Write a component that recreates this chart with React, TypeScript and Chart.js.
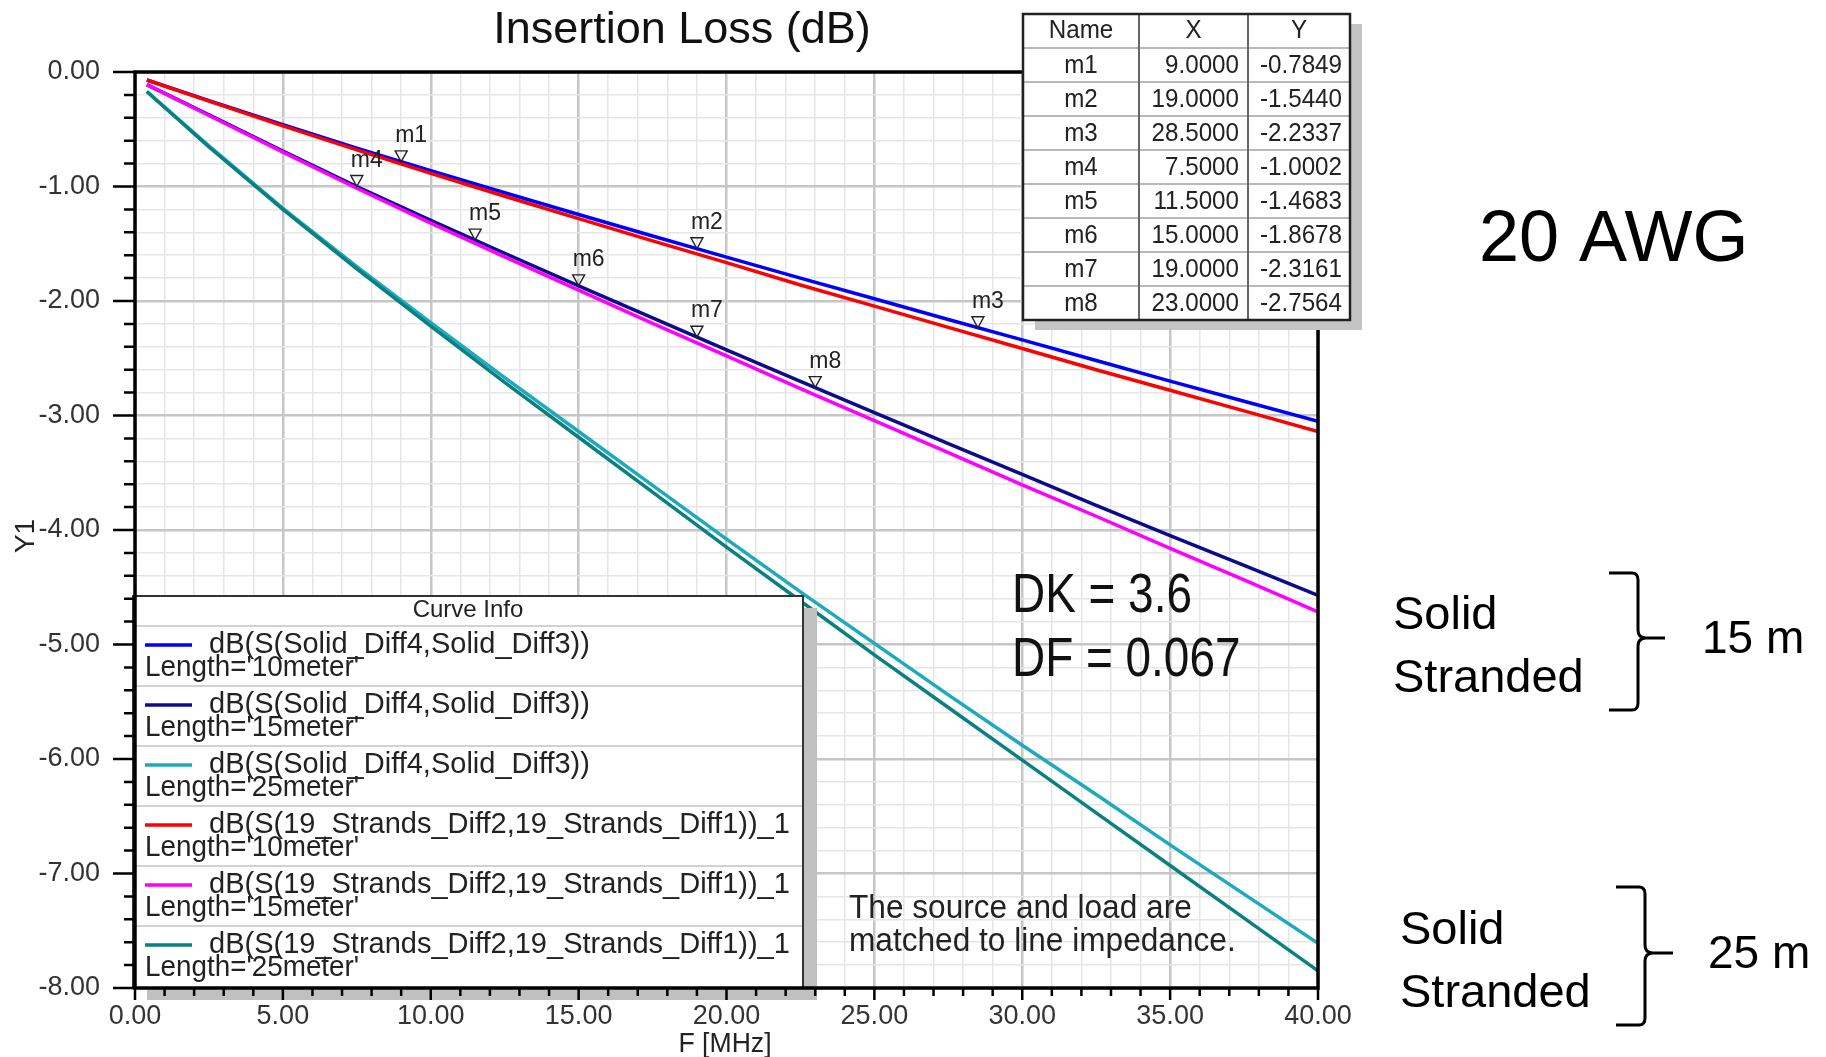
import React, { useEffect, useRef } from "react";
import { Chart, registerables } from "chart.js";

Chart.register(...registerables);

// ---------------- data ----------------
const FREQ_MHZ = [0.4, 2.5, 5, 7.5, 10, 12.5, 15, 17.5, 20, 22.5, 25, 27.5, 30, 32.5, 35, 37.5, 40];

const SOLID_10M = [-0.07, -0.25, -0.46, -0.665, -0.862, -1.055, -1.245, -1.432, -1.617, -1.8, -1.98, -2.162, -2.34, -2.52, -2.7, -2.875, -3.05];
const SOLID_15M = [-0.11, -0.375, -0.69, -1.0, -1.295, -1.583, -1.868, -2.148, -2.426, -2.702, -2.975, -3.245, -3.515, -3.785, -4.05, -4.31, -4.57];
const SOLID_25M = [-0.17, -0.645, -1.19, -1.7, -2.19, -2.67, -3.14, -3.61, -4.08, -4.54, -4.99, -5.44, -5.88, -6.31, -6.75, -7.18, -7.61];
const STRANDED_10M = [-0.07, -0.255, -0.47, -0.68, -0.885, -1.085, -1.28, -1.475, -1.665, -1.86, -2.045, -2.23, -2.415, -2.6, -2.78, -2.96, -3.14];
const STRANDED_15M = [-0.11, -0.38, -0.7, -1.015, -1.32, -1.615, -1.905, -2.195, -2.48, -2.765, -3.045, -3.325, -3.605, -3.88, -4.16, -4.435, -4.715];
const STRANDED_25M = [-0.17, -0.655, -1.2, -1.72, -2.22, -2.71, -3.19, -3.67, -4.15, -4.62, -5.09, -5.55, -6.01, -6.47, -6.93, -7.39, -7.85];

const SERIES_VALUES = [SOLID_10M, SOLID_15M, SOLID_25M, STRANDED_10M, STRANDED_15M, STRANDED_25M];
const SERIES_COLORS = ["#0000ff", "#0c0c8a", "#1eaabd", "#ff0000", "#ff00ff", "#0a8080"];
const SERIES_NAMES = [
  "dB(S(Solid_Diff4,Solid_Diff3))",
  "dB(S(Solid_Diff4,Solid_Diff3))",
  "dB(S(Solid_Diff4,Solid_Diff3))",
  "dB(S(19_Strands_Diff2,19_Strands_Diff1))_1",
  "dB(S(19_Strands_Diff2,19_Strands_Diff1))_1",
  "dB(S(19_Strands_Diff2,19_Strands_Diff1))_1",
];
const SERIES_LENGTHS = [
  "Length='10meter'",
  "Length='15meter'",
  "Length='25meter'",
  "Length='10meter'",
  "Length='15meter'",
  "Length='25meter'",
];
const SERIES_ORDER = [6, 5, 4, 3, 2, 1];

const MARKER_NAMES = ["m1", "m2", "m3", "m4", "m5", "m6", "m7", "m8"];
const MARKER_X = [9.0, 19.0, 28.5, 7.5, 11.5, 15.0, 19.0, 23.0];
const MARKER_Y = [-0.7849, -1.544, -2.2337, -1.0002, -1.4683, -1.8678, -2.3161, -2.7564];
const MARKER_X_TEXT = ["9.0000", "19.0000", "28.5000", "7.5000", "11.5000", "15.0000", "19.0000", "23.0000"];
const MARKER_Y_TEXT = ["-0.7849", "-1.5440", "-2.2337", "-1.0002", "-1.4683", "-1.8678", "-2.3161", "-2.7564"];

const X_MIN = 0;
const X_MAX = 40;
const Y_MIN = -8;
const Y_MAX = 0;

const FONT = '"Liberation Sans", Arial, Helvetica, sans-serif';

// ---------------- helpers ----------------
function txt(
  ctx: CanvasRenderingContext2D,
  s: string,
  x: number,
  y: number,
  size: number,
  align: CanvasTextAlign = "left",
  sx = 1,
  color = "#111",
  baseline: CanvasTextBaseline = "alphabetic"
) {
  ctx.save();
  ctx.font = `${size}px ${FONT}`;
  ctx.fillStyle = color;
  ctx.textAlign = align;
  ctx.textBaseline = baseline;
  ctx.translate(x, y);
  ctx.scale(sx, 1);
  ctx.fillText(s, 0, 0);
  ctx.restore();
}

function brace(ctx: CanvasRenderingContext2D, xl: number, xv: number, xt: number, yt: number, yb: number, ym: number) {
  ctx.save();
  ctx.strokeStyle = "#000";
  ctx.lineWidth = 3;
  ctx.beginPath();
  ctx.moveTo(xl, yt);
  ctx.lineTo(xv - 6, yt);
  ctx.quadraticCurveTo(xv, yt, xv, yt + 7);
  ctx.lineTo(xv, ym - 8);
  ctx.quadraticCurveTo(xv, ym, xv + 8, ym);
  ctx.lineTo(xt, ym);
  ctx.moveTo(xv + 8, ym);
  ctx.quadraticCurveTo(xv, ym, xv, ym + 8);
  ctx.lineTo(xv, yb - 7);
  ctx.quadraticCurveTo(xv, yb, xv - 6, yb);
  ctx.lineTo(xl, yb);
  ctx.stroke();
  ctx.restore();
}

const isInt = (v: number) => Math.abs(v - Math.round(v)) < 1e-6;
const isFive = (v: number) => isInt(v) && Math.round(v) % 5 === 0;

const overlayPlugin = {
  id: "overlay",
  afterDraw(chart: any) {
    const ctx: CanvasRenderingContext2D = chart.ctx;
    const xs = chart.scales.x;
    const ys = chart.scales.y;
    const { left, right, top, bottom } = chart.chartArea;

    // markers
    ctx.save();
    for (let i = 0; i < MARKER_NAMES.length; i++) {
      const px = xs.getPixelForValue(MARKER_X[i]);
      const py = ys.getPixelForValue(MARKER_Y[i]);
      ctx.beginPath();
      ctx.moveTo(px - 6, py - 11);
      ctx.lineTo(px + 6, py - 11);
      ctx.lineTo(px, py);
      ctx.closePath();
      ctx.strokeStyle = "#222";
      ctx.lineWidth = 1.4;
      ctx.stroke();
      txt(ctx, MARKER_NAMES[i], px - 6, py - 20, 23, "left", 1, "#222");
    }
    ctx.restore();

    // in-plot annotations
    txt(ctx, "DK = 3.6", 1012, 612, 56, "left", 0.82, "#111");
    txt(ctx, "DF = 0.067", 1012, 676, 56, "left", 0.82, "#111");
    txt(ctx, "The source and load are", 849, 918, 34, "left", 0.93, "#222");
    txt(ctx, "matched to line impedance.", 849, 951, 34, "left", 0.93, "#222");

    // legend box
    const L = 133, T = 596, R = 803, B = 988;
    ctx.save();
    ctx.fillStyle = "#c0c0c0";
    ctx.fillRect(L + 14, T + 12, R - L, B - T);
    ctx.fillStyle = "#fff";
    ctx.fillRect(L, T, R - L, B - T);
    ctx.strokeStyle = "#333";
    ctx.lineWidth = 2;
    ctx.strokeRect(L, T, R - L, B - T);
    txt(ctx, "Curve Info", (L + R) / 2, 617, 24, "center", 1, "#222");
    const rowH = 60;
    const firstRow = 626;
    for (let i = 0; i < SERIES_NAMES.length; i++) {
      const rt = firstRow + i * rowH;
      ctx.strokeStyle = "#d2d2d2";
      ctx.lineWidth = 2;
      ctx.beginPath();
      ctx.moveTo(L + 1, rt);
      ctx.lineTo(R - 1, rt);
      ctx.stroke();
      ctx.strokeStyle = SERIES_COLORS[i];
      ctx.lineWidth = 3.5;
      ctx.beginPath();
      ctx.moveTo(145, rt + 19);
      ctx.lineTo(192, rt + 19);
      ctx.stroke();
      txt(ctx, SERIES_NAMES[i], 209, rt + 27, 29, "left", 1, "#222");
      txt(ctx, SERIES_LENGTHS[i], 145, rt + 50, 29, "left", 0.96, "#222");
    }
    ctx.restore();

    // frame
    ctx.save();
    ctx.strokeStyle = "#000";
    ctx.lineWidth = 3.5;
    ctx.strokeRect(left, top, right - left, bottom - top);
    // ticks
    ctx.lineWidth = 2.5;
    ctx.beginPath();
    for (let k = 0; k <= 40; k++) {
      const v = -k * 0.2;
      const py = ys.getPixelForValue(v);
      const len = k % 5 === 0 ? 22 : 11;
      ctx.moveTo(left - len, py);
      ctx.lineTo(left, py);
    }
    for (let k = X_MIN; k <= X_MAX; k++) {
      const px = xs.getPixelForValue(k);
      const len = k % 5 === 0 ? 12 : 8;
      ctx.moveTo(px, bottom);
      ctx.lineTo(px, bottom + len);
    }
    ctx.stroke();
    ctx.restore();

    // marker table
    const TL = 1023, TT = 14, TR = 1350;
    const c1 = 1139, c2 = 1248;
    const hH = 34, rH = 34;
    const TB = TT + hH + rH * MARKER_NAMES.length;
    ctx.save();
    ctx.fillStyle = "#c4c4c4";
    ctx.fillRect(TL + 12, TT + 10, TR - TL, TB - TT);
    ctx.fillStyle = "#fff";
    ctx.fillRect(TL, TT, TR - TL, TB - TT);
    ctx.strokeStyle = "#b8b8b8";
    ctx.lineWidth = 2;
    ctx.beginPath();
    for (let i = 0; i < MARKER_NAMES.length; i++) {
      const y = TT + hH + rH * i;
      ctx.moveTo(TL, y);
      ctx.lineTo(TR, y);
    }
    ctx.stroke();
    ctx.strokeStyle = "#666";
    ctx.beginPath();
    ctx.moveTo(c1, TT);
    ctx.lineTo(c1, TB);
    ctx.moveTo(c2, TT);
    ctx.lineTo(c2, TB);
    ctx.stroke();
    ctx.strokeStyle = "#222";
    ctx.lineWidth = 2.5;
    ctx.strokeRect(TL, TT, TR - TL, TB - TT);
    txt(ctx, "Name", (TL + c1) / 2, TT + 24, 26, "center", 0.93, "#222");
    txt(ctx, "X", (c1 + c2) / 2, TT + 24, 26, "center", 0.93, "#222");
    txt(ctx, "Y", (c2 + TR) / 2, TT + 24, 26, "center", 0.93, "#222");
    for (let i = 0; i < MARKER_NAMES.length; i++) {
      const by = TT + hH + rH * i + 25;
      txt(ctx, MARKER_NAMES[i], (TL + c1) / 2, by, 26, "center", 0.93, "#222");
      txt(ctx, MARKER_X_TEXT[i], c2 - 9, by, 26, "right", 0.93, "#222");
      txt(ctx, MARKER_Y_TEXT[i], TR - 8, by, 26, "right", 0.93, "#222");
    }
    ctx.restore();

    // titles
    txt(ctx, "Insertion Loss (dB)", 682, 43, 45, "center", 1, "#111");
    txt(ctx, "F [MHz]", 725, 1052, 28, "center", 0.95, "#222");
    ctx.save();
    ctx.translate(34, 536);
    ctx.rotate(-Math.PI / 2);
    txt(ctx, "Y1", 0, 0, 28, "center", 1, "#222");
    ctx.restore();

    // right-side annotations
    txt(ctx, "20 AWG", 1479, 261, 72, "left", 1, "#000");
    txt(ctx, "Solid", 1393, 629, 47, "left", 1, "#000");
    txt(ctx, "Stranded", 1393, 692, 47, "left", 1, "#000");
    txt(ctx, "15 m", 1702, 653, 46, "left", 1, "#000");
    brace(ctx, 1609, 1638, 1665, 573, 710, 638);
    txt(ctx, "Solid", 1400, 944, 47, "left", 1, "#000");
    txt(ctx, "Stranded", 1400, 1007, 47, "left", 1, "#000");
    txt(ctx, "25 m", 1708, 968, 46, "left", 1, "#000");
    brace(ctx, 1616, 1645, 1673, 887, 1025, 953);
  },
};

export default function App() {
  const ref = useRef<HTMLCanvasElement | null>(null);
  useEffect(() => {
    if (!ref.current) return;
    const datasets = SERIES_VALUES.map((vals, i) => ({
      label: SERIES_NAMES[i] + " " + SERIES_LENGTHS[i],
      data: FREQ_MHZ.map((f, j) => ({ x: f, y: vals[j] })),
      borderColor: SERIES_COLORS[i],
      backgroundColor: SERIES_COLORS[i],
      borderWidth: 3.5,
      pointRadius: 0,
      tension: 0,
      fill: false,
      order: SERIES_ORDER[i],
    }));
    const chart = new Chart(ref.current, {
      type: "line",
      data: { datasets },
      options: {
        animation: false,
        responsive: false,
        devicePixelRatio: 1,
        layout: { padding: { left: 0, top: 72, right: 508, bottom: 0 } },
        plugins: { legend: { display: false }, title: { display: false }, tooltip: { enabled: false } },
        scales: {
          x: {
            type: "linear",
            min: X_MIN,
            max: X_MAX,
            border: { display: false },
            grid: {
              drawTicks: false,
              color: (c: any) => (c.tick && isFive(c.tick.value) ? "#c6c6c6" : "#e6e6e6"),
              lineWidth: (c: any) => (c.tick && isFive(c.tick.value) ? 2.5 : 1.5),
            },
            ticks: {
              stepSize: 1,
              autoSkip: false,
              maxRotation: 0,
              minRotation: 0,
              padding: 12,
              color: "#333",
              font: { family: FONT, size: 27 },
              callback: (v: any) => (isFive(Number(v)) ? Number(v).toFixed(2) : ""),
            },
            afterFit: (s: any) => {
              s.height = 69;
            },
          },
          y: {
            type: "linear",
            min: Y_MIN,
            max: Y_MAX,
            border: { display: false },
            grid: {
              drawTicks: false,
              color: (c: any) => (c.tick && isInt(c.tick.value) ? "#c6c6c6" : "#e6e6e6"),
              lineWidth: (c: any) => (c.tick && isInt(c.tick.value) ? 2.5 : 1.5),
            },
            ticks: {
              stepSize: 0.2,
              autoSkip: false,
              padding: 35,
              color: "#333",
              font: { family: FONT, size: 27 },
              callback: (v: any) => (isInt(Number(v)) ? (Math.round(Number(v)) === 0 ? "0.00" : Number(v).toFixed(2)) : ""),
            },
            afterFit: (s: any) => {
              s.width = 135;
            },
          },
        },
      },
      plugins: [overlayPlugin],
    } as any);
    return () => chart.destroy();
  }, []);
  return (
    <div style={{ position: "absolute", left: 0, top: 0, width: 1826, height: 1057, background: "#fff" }}>
      <canvas ref={ref} width={1826} height={1057} style={{ display: "block", width: 1826, height: 1057 }} />
    </div>
  );
}
